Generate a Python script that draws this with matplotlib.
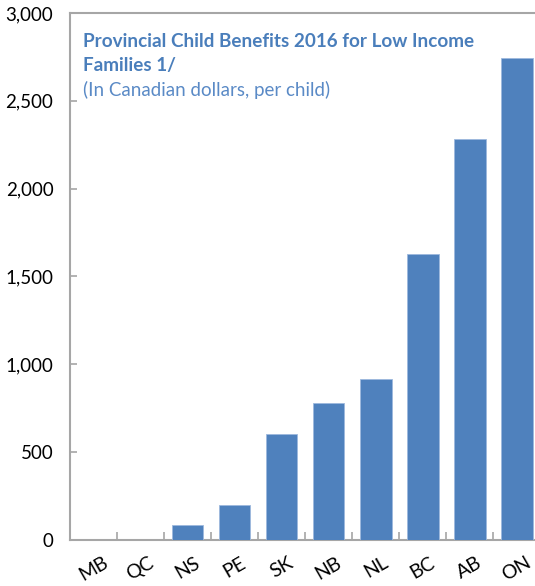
import matplotlib
matplotlib.use('Agg')
import matplotlib.pyplot as plt
import numpy as np

provinces = ['MB', 'QC', 'NS', 'PE', 'SK', 'NB', 'NL', 'BC', 'AB', 'ON']
benefits = [0, 0, 85, 200, 605, 780, 918, 1625, 2282, 2745]
yticks = [0, 500, 1000, 1500, 2000, 2500, 3000]

plt.rcParams['font.family'] = ['Lato', 'DejaVu Sans']

fig = plt.figure(figsize=(5.35, 5.86), dpi=100)
ax = fig.add_axes([0.131, 0.0785, 0.869 + 0.01, 0.8995])

x = np.arange(len(provinces))
ax.bar(x, benefits, width=0.67, color='#4F81BD', edgecolor='#9DB9DE', linewidth=0.6, zorder=3)

ax.set_ylim(0, 3000)
ax.set_xlim(-0.5, 9.5)
ax.set_yticks(yticks)
ax.set_yticklabels([f'{v:,}' for v in yticks], fontsize=13.5)
ax.set_xticks(x)
ax.set_xticklabels(provinces, rotation=30, fontsize=14, ha='center')
ax.set_xticks(np.arange(0.5, 9.5, 1), minor=True)

ax.tick_params(axis='y', direction='in', length=5, color='#A6A6A6', width=1.2, pad=12)
ax.tick_params(axis='x', which='major', length=0, pad=10)
ax.tick_params(axis='x', which='minor', direction='in', length=6, color='#A6A6A6', width=1.2)

for s in ['left', 'bottom', 'top']:
    ax.spines[s].set_color('#A6A6A6')
    ax.spines[s].set_linewidth(1.5)
ax.spines['right'].set_visible(False)

ax.text(0.027, 0.961, 'Provincial Child Benefits 2016 for Low Income\nFamilies 1/',
        transform=ax.transAxes, fontsize=13.6, fontweight='bold', color='#4A7EBB',
        va='top', ha='left', linespacing=1.45)
ax.text(0.027, 0.871, '(In Canadian dollars, per child)', transform=ax.transAxes,
        fontsize=13.5, color='#5A8AC6', va='top', ha='left')

fig.savefig('out.png', dpi=100)
